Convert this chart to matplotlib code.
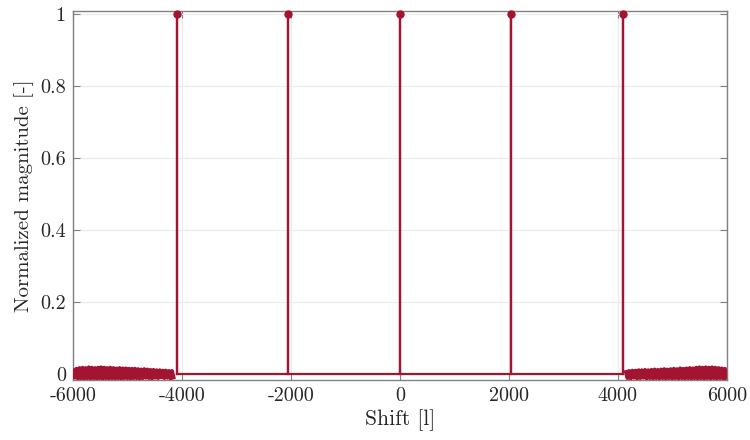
import matplotlib
matplotlib.use("Agg")
import matplotlib.pyplot as plt
import numpy as np

plt.rcParams['font.family'] = ['cmr10', 'DejaVu Serif']
plt.rcParams['mathtext.fontset'] = 'cm'
plt.rcParams['axes.unicode_minus'] = False
plt.rcParams['axes.formatter.use_mathtext'] = True

# autocorrelation peaks of the periodic sequence
peak_shift = [-4096, -2048, 0, 2048, 4096]
peak_mag = [1.0, 1.0, 1.0, 1.0, 1.0]

# residual correlation outside the overlap region
noise_left_span = (-5990, -4150)
noise_left = [0.010, -0.010, 0.015, -0.012, 0.017, -0.011, 0.018, -0.012, 0.017, -0.011,
              0.019, -0.012, 0.018, -0.011, 0.017, -0.012, 0.018, -0.011, 0.019, -0.012,
              0.018, -0.011, 0.017, -0.012, 0.018, -0.011, 0.017, -0.012, 0.016, -0.011,
              0.017, -0.012, 0.016, -0.011, 0.016, -0.011, 0.015, -0.012, 0.015, -0.011,
              0.015, -0.011, 0.014, -0.012, 0.013, -0.011, 0.014, -0.010, 0.013, -0.011,
              0.012, -0.012, 0.012, -0.010, 0.011, -0.011, 0.011, -0.009, 0.010, -0.011,
              0.010, -0.010, 0.009, -0.012, 0.009, -0.009]
noise_right_span = (4150, 5995)
noise_right = [0.006, -0.011, 0.009, -0.012, 0.010, -0.010, 0.010, -0.012, 0.011, -0.011,
               0.011, -0.010, 0.012, -0.012, 0.011, -0.011, 0.012, -0.012, 0.013, -0.011,
               0.012, -0.012, 0.013, -0.011, 0.014, -0.012, 0.013, -0.011, 0.014, -0.012,
               0.015, -0.011, 0.014, -0.012, 0.016, -0.011, 0.015, -0.012, 0.016, -0.011,
               0.017, -0.012, 0.016, -0.011, 0.018, -0.012, 0.019, -0.011, 0.018, -0.012,
               0.019, -0.011, 0.018, -0.012, 0.019, -0.011, 0.018, -0.012, 0.017, -0.011,
               0.016, -0.012, 0.015, -0.010]

x_ticks = [-6000, -4000, -2000, 0, 2000, 4000, 6000]
x_ticklabels = ['-6000', '-4000', '-2000', '0', '2000', '4000', '6000']
y_ticks = [0, 0.2, 0.4, 0.6, 0.8, 1.0]
y_ticklabels = ['0', '0.2', '0.4', '0.6', '0.8', '1']

red = '#A2142F'
axcol = '#808080'
txtcol = '#262626'

fig = plt.figure(figsize=(7.5, 4.4), dpi=100)
ax = fig.add_axes([0.097, 0.136, 0.872, 0.840])

# main trace: zero baseline with a spike at every period
line_x = [peak_shift[0]]
line_y = [0.0]
for s, m in zip(peak_shift, peak_mag):
    line_x += [s, s, s]
    line_y += [0.0, m, 0.0]
ax.plot(line_x, line_y, color=red, lw=1.6, solid_joinstyle='miter', zorder=3)
ax.plot(peak_shift, peak_mag, 'o', color=red, ms=5, zorder=4, clip_on=False)

xl = np.linspace(noise_left_span[0], noise_left_span[1], len(noise_left))
xr = np.linspace(noise_right_span[0], noise_right_span[1], len(noise_right))
ax.plot(xl, noise_left, color=red, lw=2.8, zorder=3)
ax.plot(xr, noise_right, color=red, lw=2.8, zorder=3)

ax.set_xlim(-6000, 6000)
ax.set_ylim(-0.0167, 1.01)
ax.set_xticks(x_ticks)
ax.set_xticklabels(x_ticklabels)
ax.set_yticks(y_ticks)
ax.set_yticklabels(y_ticklabels)

ax.grid(True, color='#ebebeb', lw=0.9, zorder=0)
ax.set_axisbelow(True)
for sp in ax.spines.values():
    sp.set_color(axcol)
    sp.set_linewidth(1.0)
ax.tick_params(direction='in', top=True, right=True, length=5, width=0.8,
               color=axcol, labelsize=14.5, labelcolor=txtcol, pad=5)

ax.set_xlabel('Shift [l]', fontsize=15.5, color=txtcol, labelpad=3)
ax.set_ylabel('Normalized magnitude [-]', fontsize=15, color=txtcol, labelpad=4)

fig.savefig('out.png', dpi=100)
